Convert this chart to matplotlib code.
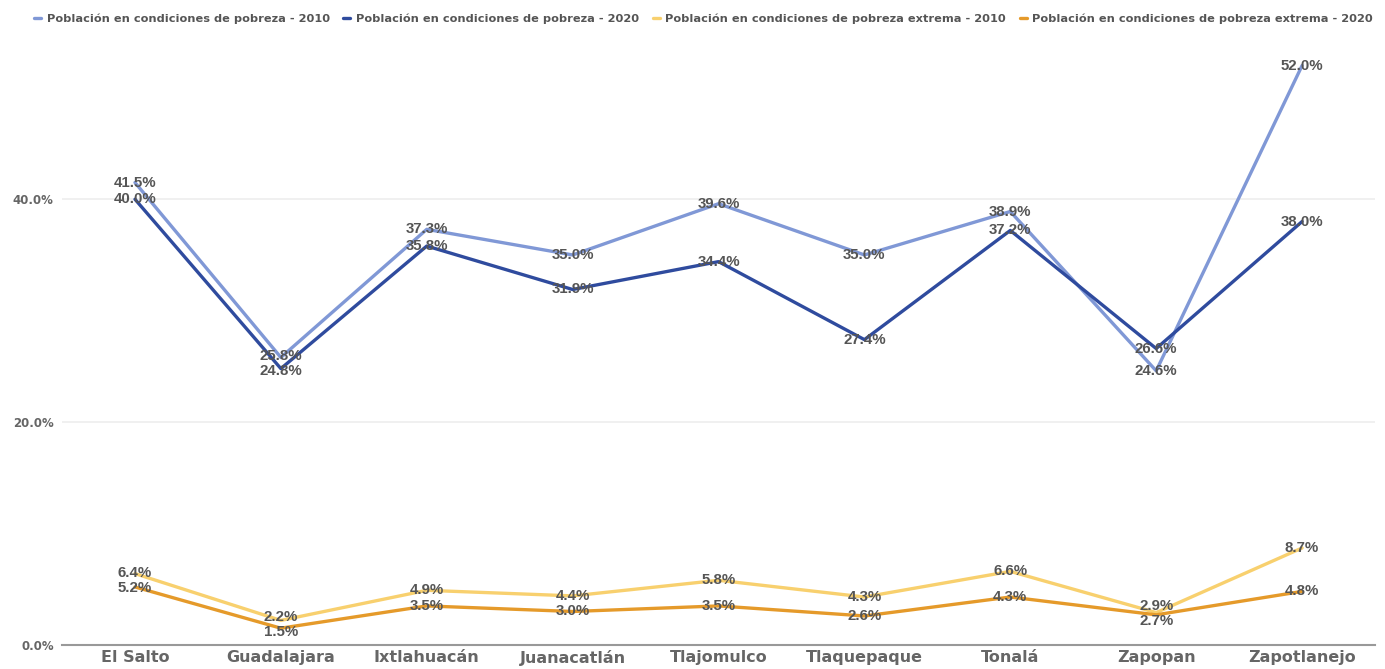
import matplotlib.pyplot as plt
from matplotlib.ticker import FuncFormatter

municipios = ["El Salto", "Guadalajara", "Ixtlahuacán", "Juanacatlán", "Tlajomulco",
              "Tlaquepaque", "Tonalá", "Zapopan", "Zapotlanejo"]
pobreza_2010 = [41.5, 25.8, 37.3, 35.0, 39.6, 35.0, 38.9, 24.6, 52.0]
pobreza_2020 = [40.0, 24.8, 35.8, 31.9, 34.4, 27.4, 37.2, 26.6, 38.0]
extrema_2010 = [6.4, 2.2, 4.9, 4.4, 5.8, 4.3, 6.6, 2.9, 8.7]
extrema_2020 = [5.2, 1.5, 3.5, 3.0, 3.5, 2.6, 4.3, 2.7, 4.8]

series = [
    ("Población en condiciones de pobreza - 2010", pobreza_2010, "#8098d6"),
    ("Población en condiciones de pobreza - 2020", pobreza_2020, "#2f4b9e"),
    ("Población en condiciones de pobreza extrema - 2010", extrema_2010, "#f8d06e"),
    ("Población en condiciones de pobreza extrema - 2020", extrema_2020, "#e59a2a"),
]

fig = plt.figure(figsize=(13.85, 6.69), dpi=100)
ax = fig.add_axes([0.0448, 0.036, 0.948, 0.891])

x = list(range(len(municipios)))
for name, vals, color in series:
    ax.plot(x, vals, color=color, lw=2.4, label=name, solid_capstyle="round", zorder=2)

# data labels: pairs (2010, 2020) pushed apart when they would collide
min_gap = 1.35
for (_, upper, _), (_, lower, _) in [(series[0], series[1]), (series[2], series[3])]:
    for xi in x:
        a, b = upper[xi], lower[xi]
        ya, yb = a, b
        if abs(a - b) < min_gap:
            mid = (a + b) / 2
            hi, lo = mid + min_gap / 2, mid - min_gap / 2
            ya, yb = (hi, lo) if a >= b else (lo, hi)
        for v, y in [(a, ya), (b, yb)]:
            ax.text(xi, y, f"{v:.1f}%", ha="center", va="center", fontsize=10.8,
                    fontweight="bold", color="#555555", zorder=3,
                    family=["Liberation Sans", "DejaVu Sans"])

ax.set_xlim(-0.5, len(municipios) - 0.5)
ax.set_ylim(0, 53.5)
ax.set_yticks([0, 20, 40])
ax.yaxis.set_major_formatter(FuncFormatter(lambda v, _: f"{v:.1f}%"))
ax.grid(axis="y", color="#eeeeee", lw=1.2)
ax.set_axisbelow(True)
for s in ["top", "right", "left"]:
    ax.spines[s].set_visible(False)
ax.spines["bottom"].set_color("#999999")
ax.spines["bottom"].set_linewidth(1.5)
ax.tick_params(length=0)
ax.set_xticks(x)
ax.set_xticklabels(municipios, fontsize=11.5, color="#666666", fontweight="bold")
for lbl in ax.get_yticklabels():
    lbl.set_fontsize(8.5)
    lbl.set_fontweight("bold")
    lbl.set_color("#666666")
ax.tick_params(axis="x", pad=4)
ax.tick_params(axis="y", pad=6)

fig.legend(loc="center", bbox_to_anchor=(0.508, 0.972), ncol=4, frameon=False,
           handlelength=0.6, handletextpad=0.5, columnspacing=1.2,
           prop={"size": 8.2, "weight": "bold"}, labelcolor="#555555")

fig.savefig("out.png", dpi=100)
